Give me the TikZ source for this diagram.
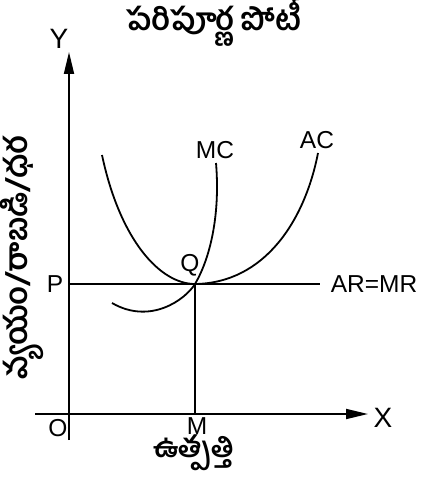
\documentclass[tikz,border=0pt]{standalone}
\usepackage{fontspec}
\setmainfont{Liberation Sans}
\newfontfamily\tel[Script=Telugu]{Hind Guntur}
\usetikzlibrary{arrows.meta}
\tikzset{
  ln/.style={line width=1.8pt, black},
  lab/.style={font=\fontsize{24.5}{28}\selectfont, inner sep=0pt},
  biglab/.style={font=\fontsize{28}{30}\selectfont, inner sep=0pt},
  tellab/.style={font=\tel\bfseries\fontsize{31}{34}\selectfont, inner sep=0pt},
  tip/.style={-{Triangle[length=22pt,width=10pt]}}
}
\begin{document}
\begin{tikzpicture}[x=1pt,y=-1pt]
\useasboundingbox (0,0) rectangle (421,481);
% axes
\coordinate (ybot) at (69,440);
\coordinate (ytop) at (69,52);
\coordinate (xl) at (35,414);
\coordinate (xr) at (368,414);
\draw[ln,tip] (ybot) -- (ytop);
\draw[ln,tip] (xl) -- (xr);
% price line and M line
\coordinate (p0) at (69,284);
\coordinate (p1) at (320,284);
\coordinate (q) at (195,284);
\coordinate (m) at (195,414);
\draw[ln] (p0) -- (p1);
\draw[ln] (q) -- (m);
% AC curve
\coordinate (ac0) at (102,155);
\coordinate (ac1) at (318,153);
\draw[ln] (ac0) .. controls (120,240) and (160,284) .. (q)
  .. controls (265,283) and (305,220) .. (ac1);
% MC curve
\coordinate (mc0) at (112,303);
\coordinate (mc1) at (216,163);
\draw[ln] (mc0) .. controls (150,325) and (185,300) .. (q)
  .. controls (212,255) and (220,210) .. (mc1);
% labels
\node[biglab] (Y) at (59,39) {Y};
\node[biglab] (X) at (383,418) {X};
\node[lab] (O) at (58,428) {O};
\node[lab] (M) at (197,426) {M};
\node[lab] (P) at (55,284) {P};
\node[lab] (Q) at (190,265) {Q};
\node[lab] (MC) at (215,150) {MC};
\node[lab] (AC) at (317,140) {AC};
\node[lab] (ARMR) at (374,284) {AR=MR};
\node[tellab] (title) at (214,22) {పరిపూర్ణ పోటీ};
\node[tellab, font=\tel\bfseries\fontsize{29}{32}\selectfont] (xt) at (194,453) {ఉత్పత్తి};
\node[tellab, rotate=90] (yt) at (22,258) {వ్యయం/రాబడి/ధర};
\end{tikzpicture}
\end{document}
